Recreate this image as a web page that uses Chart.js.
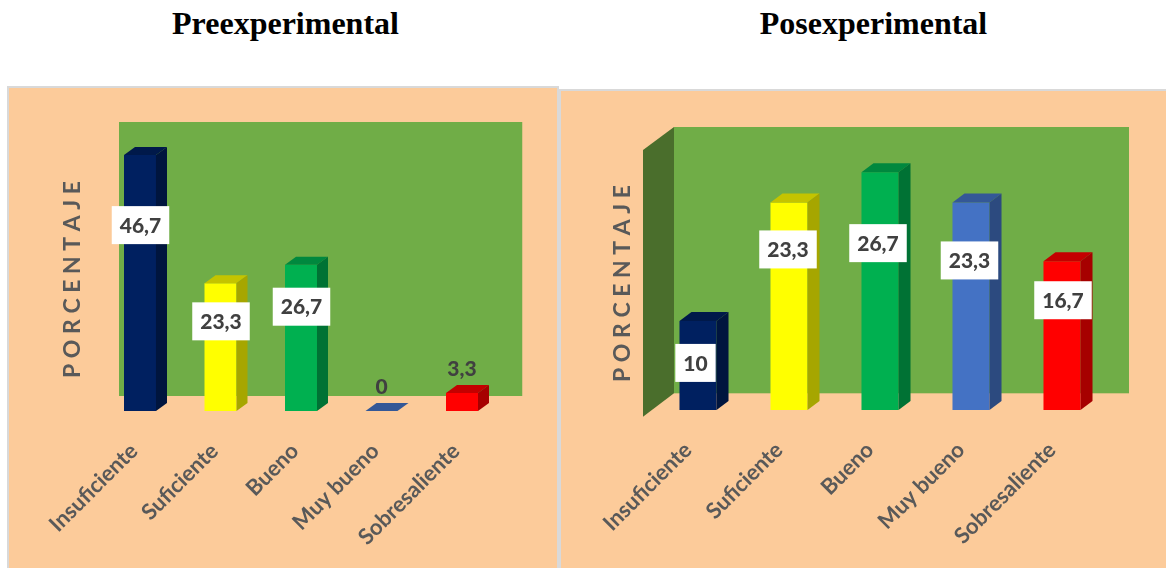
<!DOCTYPE html>
<html lang="es">
  <head>
    <meta charset="UTF-8" />
    <title>Preexperimental y Posexperimental</title>
    <script src="https://cdn.jsdelivr.net/npm/chart.js"></script>
    <style>
      html,
      body {
        margin: 0;
        width: 1166px;
        height: 568px;
        overflow: hidden;
        background: #ffffff;
      }
      h2 {
        position: absolute;
        top: 5px;
        margin: 0;
        width: 400px;
        text-align: center;
        font: bold 32px "Liberation Serif", serif;
        color: #000000;
      }
      .panel {
        position: absolute;
        background: #fccb9a;
        border: 2px solid #d9d9d9;
      }
      #prePanel {
        left: 7px;
        top: 86px;
        width: 548px;
        height: 480px;
      }
      #posPanel {
        left: 559px;
        top: 89px;
        width: 605px;
        height: 477px;
      }
    </style>
  </head>
  <body>
    <h2 style="left: 85.5px">Preexperimental</h2>
    <h2 style="left: 673.5px">Posexperimental</h2>
    <div class="panel" id="prePanel"><canvas id="preChart" width="548" height="480"></canvas></div>
    <div class="panel" id="posPanel"><canvas id="posChart" width="605" height="477"></canvas></div>

    <script>
      const categories = ["Insuficiente", "Suficiente", "Bueno", "Muy bueno", "Sobresaliente"];
      const preValues = [46.7, 23.3, 26.7, 0, 3.3];
      const posValues = [10, 23.3, 26.7, 23.3, 16.7];
      const preColors = ["#002060", "#ffff00", "#00b050", "#4472c4", "#ff0000"];
      const posColors = ["#002060", "#ffff00", "#00b050", "#4472c4", "#ff0000"];

      // Donde va cada etiqueta respecto a la parte alta de su barra
      const preLabelDrop = [70, 38, 42, -25, -25];
      const preLabelShift = [0.5, 0.5, 0.5, 0, 0];
      const posLabelDrop = [42, 47, 71, 58, 39];
      const posLabelShift = [-2.5, -1, -2, -1.5, 1];

      // Oscurece un color para las caras laterales de la barra
      function shade(hex, k) {
        const n = parseInt(hex.slice(1), 16);
        const r = Math.round(((n >> 16) & 255) * k);
        const g = Math.round(((n >> 8) & 255) * k);
        const b = Math.round((n & 255) * k);
        return `rgb(${r},${g},${b})`;
      }

      function face(ctx, color, pts) {
        ctx.fillStyle = color;
        ctx.beginPath();
        pts.forEach((p, i) => (i ? ctx.lineTo(p[0], p[1]) : ctx.moveTo(p[0], p[1])));
        ctx.closePath();
        ctx.fill();
      }

      // Pared verde del fondo y, si hace falta, la pared lateral
      const wallPlugin = {
        id: "wall",
        beforeDatasetsDraw(chart, args, opts) {
          const { ctx, chartArea: a } = chart;
          const w = opts.back;
          ctx.fillStyle = "#70ad47";
          ctx.fillRect(a.left + w.left, a.top + w.top, a.width + w.right - w.left, a.height + w.bottom - w.top);
          if (opts.side) {
            face(ctx, "#4a6e2c", [
              [a.left + opts.side.x, a.top + opts.side.top],
              [a.left + w.left, a.top + w.top],
              [a.left + w.left, a.bottom + w.bottom],
              [a.left + opts.side.x, a.bottom + opts.side.bottom],
            ]);
          }
        },
      };

      // Caras superior y lateral de cada barra, y las etiquetas de valor
      const bar3dPlugin = {
        id: "bar3d",
        afterDatasetsDraw(chart, args, opts) {
          const { ctx } = chart;
          const ds = chart.data.datasets[0];
          const bars = chart.getDatasetMeta(0).data;
          const dx = opts.dx;
          const dy = opts.dy;

          bars.forEach((bar, i) => {
            const color = ds.backgroundColor[i];
            const x0 = bar.x - bar.width / 2;
            const x1 = bar.x + bar.width / 2;
            face(ctx, shade(color, 0.77), [
              [x0, bar.y],
              [x1, bar.y],
              [x1 + dx, bar.y - dy],
              [x0 + dx, bar.y - dy],
            ]);
            if (bar.base - bar.y > 0) {
              face(ctx, shade(color, 0.65), [
                [x1, bar.y],
                [x1 + dx, bar.y - dy],
                [x1 + dx, bar.base - dy],
                [x1, bar.base],
              ]);
            }
          });

          ctx.font = "900 21px Lato, sans-serif";
          ctx.textAlign = "center";
          ctx.textBaseline = "middle";
          bars.forEach((bar, i) => {
            const text = String(ds.data[i]).replace(".", ",");
            const cx = bar.x + opts.shift[i];
            const cy = bar.y + opts.drop[i];
            if (opts.drop[i] > 0) {
              const boxW = ctx.measureText(text).width + 16;
              ctx.fillStyle = "#ffffff";
              ctx.fillRect(cx - boxW / 2, cy - 19, boxW, 38);
            }
            ctx.fillStyle = "#404040";
            ctx.fillText(text, cx, cy + 1);
          });
        },
      };

      function drawChart(id, values, colors, cfg) {
        new Chart(document.getElementById(id), {
          type: "bar",
          data: {
            labels: categories,
            datasets: [
              {
                data: values,
                backgroundColor: colors,
                categoryPercentage: 1,
                barPercentage: cfg.barPercentage,
              },
            ],
          },
          plugins: [wallPlugin, bar3dPlugin],
          options: {
            responsive: false,
            animation: false,
            layout: {
              autoPadding: false,
              padding: { left: cfg.padLeft, right: cfg.padRight, top: cfg.padTop, bottom: 0 },
            },
            plugins: {
              legend: { display: false },
              tooltip: { enabled: false },
              wall: cfg.wall,
              bar3d: { dx: cfg.dx, dy: cfg.dy, drop: cfg.drop, shift: cfg.shift },
            },
            scales: {
              x: {
                grid: { display: false },
                border: { display: false },
                afterFit(scale) {
                  scale.height = cfg.xHeight;
                },
                ticks: {
                  autoSkip: false,
                  minRotation: 45,
                  maxRotation: 45,
                  padding: 19,
                  labelOffset: cfg.tickShift,
                  color: "#595959",
                  font: { family: "Lato", weight: "bold", size: 22 },
                },
              },
              y: {
                min: 0,
                max: cfg.yMax,
                grid: { display: false, drawTicks: false },
                border: { display: false },
                ticks: { display: false },
                title: {
                  display: true,
                  text: "P O R C E N T A J E",
                  color: "#595959",
                  font: { family: "Lato", weight: "bold", size: 23, lineHeight: 1.2 },
                  padding: { top: 0, bottom: cfg.titleGap },
                },
              },
            },
          },
        });
      }

      drawChart("preChart", preValues, preColors, {
        barPercentage: 0.3975,
        padLeft: 49.7,
        padRight: 54.75,
        padTop: 60,
        xHeight: 157,
        titleGap: 13.45,
        tickShift: -6,
        yMax: 48,
        dx: 11,
        dy: 8,
        drop: preLabelDrop,
        shift: preLabelShift,
        wall: { back: { left: 19.25, right: 20, top: -26, bottom: -15 } },
      });

      drawChart("posChart", posValues, posColors, {
        barPercentage: 0.407,
        padLeft: 47.7,
        padRight: 58.5,
        padTop: 66,
        xHeight: 158,
        titleGap: 16.2,
        tickShift: -10,
        yMax: 28.4,
        dx: 12,
        dy: 9,
        drop: posLabelDrop,
        shift: posLabelShift,
        wall: {
          back: { left: 21.5, right: 21.5, top: -30, bottom: -16.7 },
          side: { x: -9.5, top: -7, bottom: 6.7 },
        },
      });
    </script>
  </body>
</html>
